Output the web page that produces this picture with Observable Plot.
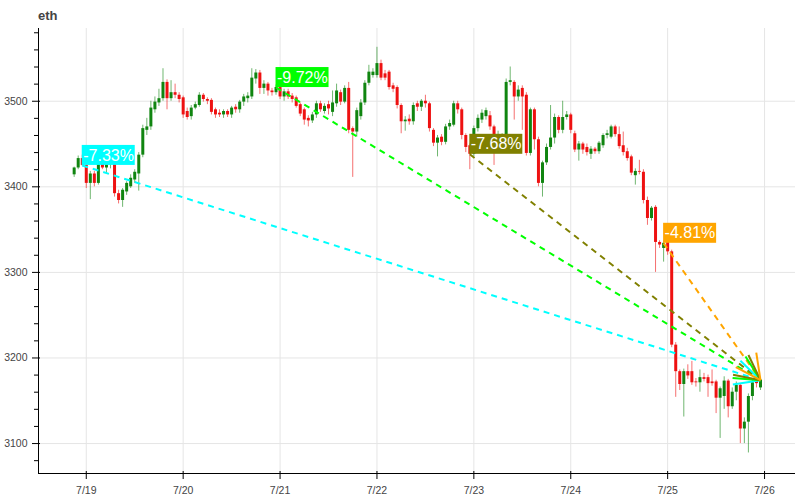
<!DOCTYPE html>
<html><head><meta charset="utf-8">
<script src="https://cdn.jsdelivr.net/npm/d3@7"></script>
<script src="https://cdn.jsdelivr.net/npm/@observablehq/plot@0.6"></script>
<style>
body{margin:0;background:#fff;}
#wrap{position:relative;width:800px;height:500px;}
#title{position:absolute;left:38px;top:9px;font:bold 13px "Liberation Sans",Arial,sans-serif;line-height:13px;color:#444;}
</style></head><body>
<div id="wrap"><div id="title">eth</div></div>
<script>
// hourly candles, first candle 2024-07-18 21:00
const firstHour = Date.UTC(2024, 6, 18, 21);
const opens = [
3414,3422,3433,3425,3404,3415,3404,3427,3422,3426,
3429,3392,3384,3394,3400,3408,3415,3437,3466,3470,
3490,3498,3503,3522,3503,3510,3507,3504,3488,3482,
3492,3495,3507,3502,3501,3490,3486,3484,3488,3484,
3493,3490,3499,3503,3505,3526,3533,3515,3520,3512,
3510,3516,3505,3511,3506,3504,3496,3490,3480,3477,
3484,3497,3488,3496,3487,3497,3510,3499,3515,3468,
3464,3482,3498,3521,3530,3530,3544,3532,3534,3518,
3516,3495,3476,3479,3476,3497,3493,3500,3497,3466,
3451,3458,3452,3470,3472,3497,3490,3460,3448,3438,
3468,3478,3482,3483,3470,3452,3455,3452,3522,3522,
3505,3515,3507,3439,3490,3455,3404,3428,3446,3457,
3481,3466,3481,3484,3462,3443,3450,3446,3438,3444,
3441,3448,3460,3458,3470,3461,3448,3441,3435,3413,
3418,3417,3384,3363,3376,3335,3328,3335,3324,3215,
3184,3169,3184,3184,3172,3171,3177,3177,3172,3172,
3153,3155,3173,3143,3160,3168,3117,3125,3155,3175,
3165];
const highs = [
3423,3436,3437,3428,3418,3418,3430,3432,3429,3432,
3431,3396,3398,3406,3414,3420,3440,3472,3480,3500,
3505,3514,3538,3525,3524,3520,3510,3506,3492,3495,
3499,3510,3509,3504,3503,3492,3490,3490,3490,3494,
3496,3501,3508,3510,3538,3537,3536,3524,3522,3515,
3519,3518,3514,3514,3509,3506,3498,3492,3483,3487,
3500,3500,3497,3500,3512,3520,3513,3518,3522,3470,
3492,3502,3524,3542,3538,3563,3548,3536,3536,3521,
3518,3497,3482,3484,3498,3500,3502,3507,3499,3468,
3460,3461,3473,3478,3500,3500,3492,3462,3450,3471,
3484,3490,3492,3488,3472,3465,3462,3526,3540,3524,
3518,3518,3510,3492,3492,3458,3430,3450,3495,3485,
3483,3500,3488,3486,3465,3453,3452,3450,3447,3446,
3453,3462,3466,3472,3472,3470,3464,3445,3437,3421,
3431,3420,3388,3377,3378,3337,3337,3337,3326,3218,
3186,3187,3192,3196,3176,3186,3182,3180,3186,3174,
3166,3178,3175,3165,3172,3170,3130,3158,3174,3178,
3177];
const lows = [
3411,3420,3424,3398,3385,3400,3402,3420,3415,3421,
3388,3380,3376,3390,3398,3404,3395,3434,3460,3466,
3486,3494,3500,3490,3500,3503,3498,3480,3478,3478,
3490,3493,3499,3496,3484,3480,3481,3480,3481,3480,
3486,3486,3494,3498,3502,3520,3508,3508,3506,3506,
3507,3502,3500,3502,3498,3492,3482,3472,3470,3474,
3480,3487,3485,3484,3482,3493,3495,3497,3462,3411,
3458,3478,3495,3518,3527,3527,3524,3524,3513,3510,
3491,3462,3465,3472,3472,3488,3488,3492,3464,3447,
3435,3448,3449,3466,3470,3485,3455,3440,3420,3435,
3464,3474,3478,3466,3425,3448,3450,3450,3518,3478,
3500,3466,3436,3436,3443,3400,3388,3425,3443,3450,
3462,3462,3478,3462,3440,3430,3438,3436,3432,3438,
3438,3445,3456,3456,3458,3444,3436,3430,3413,3402,
3414,3380,3355,3360,3300,3328,3312,3320,3212,3154,
3162,3131,3175,3168,3166,3160,3172,3154,3167,3135,
3106,3140,3130,3140,3150,3100,3100,3089,3150,3165,
3162];
const closes = [
3422,3433,3425,3404,3415,3404,3427,3422,3426,3429,
3392,3384,3396,3404,3410,3417,3437,3468,3470,3492,
3499,3503,3522,3503,3510,3507,3502,3484,3481,3492,
3496,3507,3502,3500,3487,3484,3484,3488,3484,3492,
3490,3499,3505,3506,3527,3533,3515,3520,3512,3510,
3516,3505,3511,3505,3502,3494,3485,3478,3477,3484,
3497,3490,3494,3491,3498,3512,3499,3515,3466,3464,
3489,3498,3521,3534,3534,3544,3527,3527,3516,3514,
3495,3476,3478,3476,3495,3493,3500,3497,3468,3451,
3457,3452,3470,3474,3497,3490,3460,3446,3438,3468,
3480,3486,3489,3470,3458,3460,3458,3522,3524,3505,
3513,3505,3439,3490,3455,3404,3428,3446,3457,3481,
3466,3481,3484,3466,3443,3450,3443,3440,3444,3441,
3451,3460,3462,3470,3461,3447,3440,3433,3416,3418,
3417,3384,3363,3375,3335,3332,3334,3324,3215,3184,
3169,3184,3179,3171,3171,3177,3175,3170,3170,3153,
3164,3173,3143,3160,3168,3117,3125,3155,3171,3170,
3174];

const dayTicks = ["2024-07-19","2024-07-20","2024-07-21","2024-07-22","2024-07-23","2024-07-24","2024-07-25","2024-07-26"];
const dayLabels = ["7/19","7/20","7/21","7/22","7/23","7/24","7/25","7/26"];
const priceTicks = [3100, 3200, 3300, 3400, 3500];
const minorPriceTicks = [3080,3120,3140,3160,3180,3220,3240,3260,3280,3320,3340,3360,3380,3420,3440,3460,3480,3520,3540,3560,3580];

// change annotations: from the close at these candles to the last close
const refIndex = [2, 50, 98, 146];
const refLabels = ["-7.33%", "-9.72%", "-7.68%", "-4.81%"];
const refColors = ["#00ffff", "#00ff00", "#808000", "#ffa500"];

const UP = "#108510", DOWN = "#ee1111";
const FONT = "'Liberation Sans', Arial, Helvetica, sans-serif";

const candles = closes.map((c, i) => ({
  date: new Date(firstHour + i * 3600e3),
  open: opens[i], high: highs[i], low: lows[i], close: c,
  color: c >= opens[i] ? UP : DOWN
}));
const last = candles[candles.length - 1];
const refs = refIndex.map((k, j) => ({
  date: candles[k].date, close: candles[k].close, label: refLabels[j], color: refColors[j]
}));
const days = dayTicks.map(s => new Date(s + "T00:00:00Z"));

const xDomain = [new Date(Date.UTC(2024, 6, 18, 12, 10)), new Date(Date.UTC(2024, 6, 26, 7, 40))];
const yDomain = [3065, 3585];

const base = {
  width: 800, height: 500,
  marginLeft: 38, marginRight: 5, marginTop: 28, marginBottom: 27,
  x: {type: "utc", domain: xDomain, axis: null},
  y: {type: "linear", domain: yDomain, axis: null},
  style: {fontFamily: FONT, fontSize: "10.5px", background: "white", overflow: "visible"}
};

// probe the scales to build open arrow heads (size 25 → wings ~28px, ±26.6°)
const probe = Plot.plot({...base, marks: [Plot.dot([{d: xDomain[0], v: 3100}], {x: "d", y: "v"})]});
const sx = probe.scale("x"), sy = probe.scale("y");
const wingLen = 28, wingAngle = Math.atan(0.5);
const wings = [];
for (const r of refs) {
  const tx = sx.apply(last.date), ty = sy.apply(last.close);
  const ax = sx.apply(r.date), ay = sy.apply(r.close);
  const ang = Math.atan2(ay - ty, ax - tx);
  for (const s of [-1, 1]) {
    const a = ang + s * wingAngle;
    wings.push({
      x1: last.date, y1: last.close,
      x2: sx.invert(tx + wingLen * Math.cos(a)), y2: sy.invert(ty + wingLen * Math.sin(a)),
      color: r.color
    });
  }
}

const x0 = () => xDomain[0];
const y0 = () => yDomain[0];

const chart = Plot.plot({
  ...base,
  marks: [
    Plot.ruleY(priceTicks, {stroke: "#e5e5e5"}),
    Plot.ruleX(days, {stroke: "#e5e5e5"}),
    // wicks and bodies
    Plot.ruleX(candles, {x: "date", y1: "low", y2: "high", stroke: "color", strokeOpacity: 0.6, strokeWidth: 1}),
    Plot.ruleX(candles, {x: "date", y1: "open", y2: "close", stroke: "color", strokeWidth: 3}),
    // axes lines and ticks
    Plot.ruleX([xDomain[0]], {stroke: "#000"}),
    Plot.ruleY([yDomain[0]], {stroke: "#000"}),
    Plot.ruleY(priceTicks, {x1: x0, x2: x0, insetLeft: -6, insetRight: -2, stroke: "#000"}),
    Plot.ruleY(minorPriceTicks, {x1: x0, x2: x0, insetLeft: -4, insetRight: 0, stroke: "#000"}),
    Plot.ruleX(days, {y1: y0, y2: y0, insetTop: -2, insetBottom: -6, stroke: "#000"}),
    Plot.text(priceTicks, {x: x0, y: d => d, text: d => String(d), textAnchor: "end", dx: -11, fill: "#444", fontSize: 10.5}),
    Plot.text(days, {x: d => d, y: y0, text: (d, i) => dayLabels[i], dy: 17, fill: "#444", fontSize: 10.5}),
    // dashed change arrows
    Plot.link(refs, {x1: "date", y1: "close", x2: () => last.date, y2: () => last.close,
      stroke: "color", strokeWidth: 2, strokeDasharray: "6,5"}),
    Plot.link(wings, {x1: "x1", y1: "y1", x2: "x2", y2: "y2", stroke: "color", strokeWidth: 2}),
    // labels
    Plot.rect(refs, {x1: "date", x2: "date", y1: "close", y2: "close", fill: "color",
      insetRight: -53, insetTop: -20}),
    Plot.text(refs, {x: "date", y: "close", text: "label", textAnchor: "start", dx: 1, dy: -10,
      fill: "white", fontSize: 16, fontFamily: FONT})
  ]
});
document.getElementById("wrap").prepend(chart);
</script>
</body></html>
